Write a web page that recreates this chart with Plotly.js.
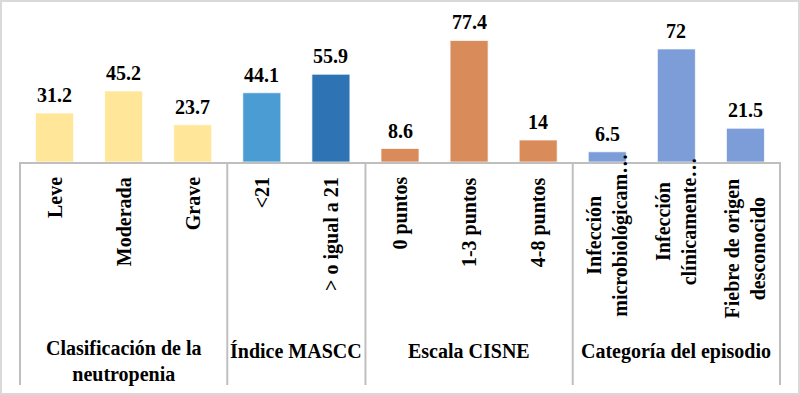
<!DOCTYPE html>
<html>
<head>
<meta charset="utf-8">
<script src="https://cdn.plot.ly/plotly-3.0.1.min.js"></script>
<style>
  html, body { margin: 0; padding: 0; background: #ffffff; }
  #wrap { position: relative; width: 800px; height: 395px; }
  #chart { width: 800px; height: 395px; }
  #frame { position: absolute; left: 0; top: 0; width: 800px; height: 395px;
           box-sizing: border-box; border: 2px solid #d9d9d9; pointer-events: none; }
</style>
</head>
<body>
<div id="wrap"><div id="chart"></div><div id="frame"></div></div>
<script>
// ---- data ----
const categories = ["Leve", "Moderada", "Grave", "<21", "> o igual a 21",
  "0 puntos", "1-3 puntos", "4-8 puntos",
  "Infección microbiológicam…", "Infección clínicamente…", "Fiebre de origen desconocido"];
const categoryLabels = ["Leve", "Moderada", "Grave", "&lt;21", "&gt; o igual a 21",
  "0 puntos", "1-3 puntos", "4-8 puntos",
  "Infección<br>microbiológicam…", "Infección<br>clínicamente…", "Fiebre de origen<br>desconocido"];
const values = [31.2, 45.2, 23.7, 44.1, 55.9, 8.6, 77.4, 14, 6.5, 72, 21.5];
const valueLabels = ["31.2", "45.2", "23.7", "44.1", "55.9", "8.6", "77.4", "14", "6.5", "72", "21.5"];
const groupNames = ["Clasificación de la<br>neutropenia", "Índice MASCC", "Escala CISNE", "Categoría del episodio"];
const groupSizes = [3, 2, 3, 3];

// ---- styles ----
const barColors = ["#FFE699", "#FFE699", "#FFE699", "#4C9CD4", "#2E74B5",
  "#D98C59", "#D98C59", "#D98C59", "#7C9DD8", "#7C9DD8", "#7C9DD8"];
const FONT = "Liberation Serif, Times New Roman, serif";
const W = 800, H = 395;
const M = { l: 20, r: 20, t: 5, b: 233 };
const plotH = H - M.t - M.b;
const baseY = H - M.b;
const pyToPaper = py => (baseY - py) / plotH;
const labelTopPx = [175, 175, 175, 175, 175, 175, 175, 175, 152, 155, 176];

const n = categories.length;
const annotations = [];
// value labels
categories.forEach((c, i) => {
  annotations.push({
    x: c, y: values[i], xref: "x", yref: "y",
    text: "<b>" + valueLabels[i] + "</b>", showarrow: false,
    yanchor: "bottom", xanchor: "center", yshift: 5,
    font: { family: FONT, size: 20, color: "#000000" }
  });
});
// rotated category labels
categories.forEach((c, i) => {
  annotations.push({
    x: c, y: pyToPaper(labelTopPx[i]), xref: "x", yref: "paper",
    text: "<b>" + categoryLabels[i] + "</b>", showarrow: false,
    textangle: -90, yanchor: "top", xanchor: "center", align: "center",
    font: { family: FONT, size: 20, color: "#000000" }
  });
});
// group labels and separators
const shapes = [];
let start = 0;
shapes.push({ type: "line", xref: "paper", yref: "paper", x0: 0, x1: 0,
  y0: 0, y1: pyToPaper(385), line: { color: "#BFBFBF", width: 2 } });
groupNames.forEach((g, k) => {
  const end = start + groupSizes[k];
  const center = (start + end) / 2 / n;
  const twoLines = g.indexOf("<br>") >= 0;
  annotations.push({
    x: center, y: pyToPaper(twoLines ? 362 : 351), xref: "paper", yref: "paper",
    text: "<b>" + g + "</b>", showarrow: false,
    xanchor: "center", yanchor: "middle", align: "center",
    font: { family: FONT, size: 20, color: "#000000" }
  });
  shapes.push({ type: "line", xref: "paper", yref: "paper", x0: end / n, x1: end / n,
    y0: 0, y1: pyToPaper(385), line: { color: "#BFBFBF", width: 2 } });
  start = end;
});

const trace = {
  type: "bar",
  x: categories,
  y: values,
  marker: { color: barColors, line: { color: "rgba(255,255,255,0.7)", width: 1 } },
  hoverinfo: "x+y"
};

const layout = {
  width: W, height: H,
  margin: M,
  paper_bgcolor: "#ffffff", plot_bgcolor: "#ffffff",
  showlegend: false,
  bargap: 0.45,
  xaxis: {
    type: "category", range: [-0.5, n - 0.5],
    showticklabels: false, ticks: "", showgrid: false, zeroline: false,
    showline: true, linecolor: "#BFBFBF", linewidth: 2, fixedrange: true
  },
  yaxis: {
    range: [0, 100], visible: false, showgrid: false, zeroline: false, fixedrange: true
  },
  annotations: annotations,
  shapes: shapes
};

Plotly.newPlot("chart", [trace], layout, { displayModeBar: false, staticPlot: true });
</script>
</body>
</html>
